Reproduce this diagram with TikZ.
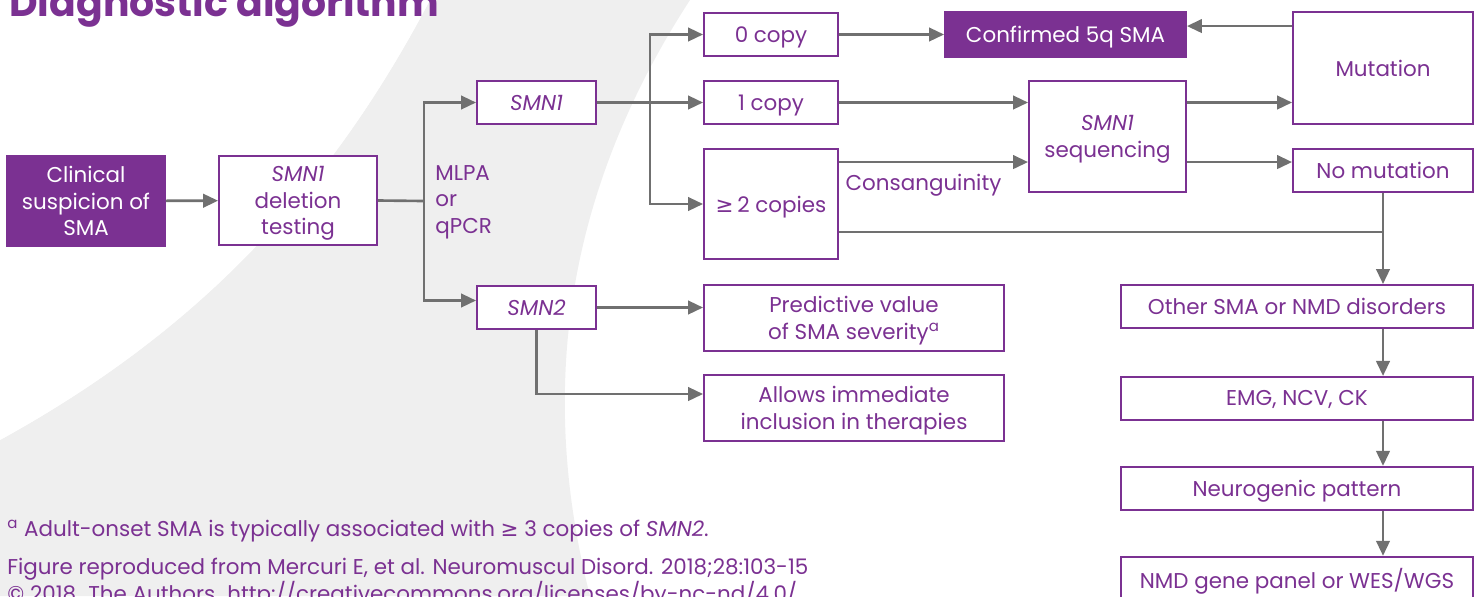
\documentclass[tikz,border=0pt]{standalone}
\usepackage{fontspec}
\setmainfont{Poppins}
\newfontfamily\symfont{DejaVu Sans}
\usetikzlibrary{arrows.meta, positioning, calc}
\definecolor{cPurple}{RGB}{123,49,146}
\definecolor{cGrey}{RGB}{112,112,112}
\definecolor{cBack}{RGB}{239,239,239}
\newcommand{\gene}[1]{\textit{#1}}
\newcommand{\atleast}{{\symfont ≥}}
\tikzset{
	box/.style      ={rectangle, draw=cPurple, line width=1.1pt, fill=white, text=cPurple, align=center, inner sep=0pt, text depth=0pt, minimum height=0.86cm},
	solidbox/.style ={box, fill=cPurple, text=white},
	flowarrow/.style={-{Triangle[length=0.3cm, width=0.27cm]}, draw=cGrey, line width=1.5pt},
	flowline/.style ={draw=cGrey, line width=1.5pt},
	note/.style     ={anchor=west, text=cPurple, inner sep=0pt},
}

\begin{document}
\begin{tikzpicture}[x=0.02cm, y=-0.02cm, font=\fontsize{12.2}{15}\selectfont]
	\useasboundingbox (0,0) rectangle (1480,596);
	% backdrop swoosh
	\fill[cBack] (430,0) .. controls (330,190) and (200,330) .. (0,440) -- (0,596) -- (590,596) .. controls (540,400) and (560,200) .. (690,0) -- cycle;
	\fill[white] (0,440) .. controls (200,330) and (330,190) .. (430,0) -- (0,0) -- cycle;
	\node[note, anchor=base west, font=\fontsize{22.4}{26}\selectfont\bfseries] (title) at (9,16) {Diagnostic algorithm};

	% testing column
	\node[solidbox, minimum width=3.16cm, minimum height=1.8cm] (clin) at (86,201) {Clinical\\suspicion of\\SMA};
	\node[box, minimum width=3.16cm, minimum height=1.78cm] (del) at (298,200.5) {\gene{SMN1}\\deletion\\testing};
	\node[note, align=left] (mlpa) at (435,202) {MLPA\\or\\qPCR};
	\node[box, minimum width=2.38cm] (smnone) at (536.5,102.5) {\gene{SMN1}};
	\node[box, minimum width=2.38cm] (smntwo) at (536.5,307.5) {\gene{SMN2}};

	% copy number
	\node[box, minimum width=2.68cm] (zero) at (771,34.5) {0 copy};
	\node[box, minimum width=2.68cm] (one) at (771,102.5) {1 copy};
	\node[box, minimum width=2.68cm, minimum height=2.2cm] (two) at (771,204) {\atleast\,2 copies};
	\node[solidbox, minimum width=4.82cm, minimum height=0.9cm] (conf) at (1065.5,34.5) {Confirmed 5q SMA};
	\node[box, minimum width=3.14cm, minimum height=2.22cm] (seq) at (1107.5,136.5) {\gene{SMN1}\\sequencing};
	\node[box, minimum width=3.6cm, minimum height=2.24cm] (mut) at (1383,68) {Mutation};
	\node[box, minimum width=3.6cm] (nomut) at (1383,170.5) {No mutation};

	% SMN2 outcomes
	\node[box, minimum width=6cm, minimum height=1.32cm] (pred) at (854,318) {Predictive value\\of SMA severity\textsuperscript{a}};
	\node[box, minimum width=6cm, minimum height=1.32cm] (allow) at (854,408) {Allows immediate\\inclusion in therapies};

	% other disorders chain
	\node[box, minimum width=7.04cm] (other) at (1297,306.5) {Other SMA or NMD disorders};
	\node[box, minimum width=7.04cm, below=0.94cm of other] (emg) {EMG, NCV, CK};
	\node[box, minimum width=7.04cm, below=0.9cm of emg] (neuro) {Neurogenic pattern};
	\node[box, minimum width=7.04cm, below=0.9cm of neuro] (panel) {NMD gene panel or WES/WGS};

	% footnotes
	\node[note] (fna) at (7,531) {\textsuperscript{a} Adult-onset SMA is typically associated with \atleast\ 3 copies of \gene{SMN2}.};
	\node[note] (src) at (7,569) {Figure reproduced from Mercuri E, et al. Neuromuscul Disord. 2018;28:103-15};
	\node[note] (lic) at (7,594) {© 2018. The Authors. http://creativecommons.org/licenses/by-nc-nd/4.0/};

	% connectors
	\coordinate (split) at (424,201);
	\coordinate (fork) at (650,102.5);
	\coordinate (consang) at ([yshift=-0.28cm]two.north east);
	\coordinate (other2) at ([yshift=0.56cm]two.south east);
	\draw[flowarrow] (clin) -- (del);
	\draw[flowline] (del.east) -- (split);
	\draw[flowarrow] (split) |- (smnone.west);
	\draw[flowarrow] (split) |- ([yshift=0.14cm]smntwo.west);
	\draw[flowarrow] (smnone.east) -- (one.west);
	\draw[flowarrow] (fork) |- (zero.west);
	\draw[flowarrow] (fork) |- (two.west);
	\draw[flowarrow] (zero) -- (conf);
	\draw[flowarrow] (one.east) -- (one.east -| seq.west);
	\draw[flowarrow] (consang) -- (consang -| seq.west) node[midway, below=3pt, xshift=-0.2cm, text=cPurple] (cons) {Consanguinity};
	\draw[flowarrow] (seq.east |- one.east) -- (mut.west |- one.east);
	\draw[flowarrow] (consang -| seq.east) -- (consang -| nomut.west);
	\draw[flowarrow] ([yshift=-0.3cm]mut.north west) -- ([yshift=-0.3cm]mut.north west -| conf.east);
	\draw[flowline] (other2) -- (other2 -| nomut.south);
	\draw[flowarrow] (nomut.south) -- (nomut.south |- other.north);
	\draw[flowarrow] (other.south -| nomut.south) -- (emg.north -| nomut.south);
	\draw[flowarrow] (emg.south -| nomut.south) -- (neuro.north -| nomut.south);
	\draw[flowarrow] (neuro.south -| nomut.south) -- (panel.north -| nomut.south);
	\draw[flowarrow] (smntwo.east) -- (smntwo.east -| pred.west);
	\draw[flowarrow] (smntwo.south) |- ([yshift=0.28cm]allow.west);
\end{tikzpicture}
\end{document}
